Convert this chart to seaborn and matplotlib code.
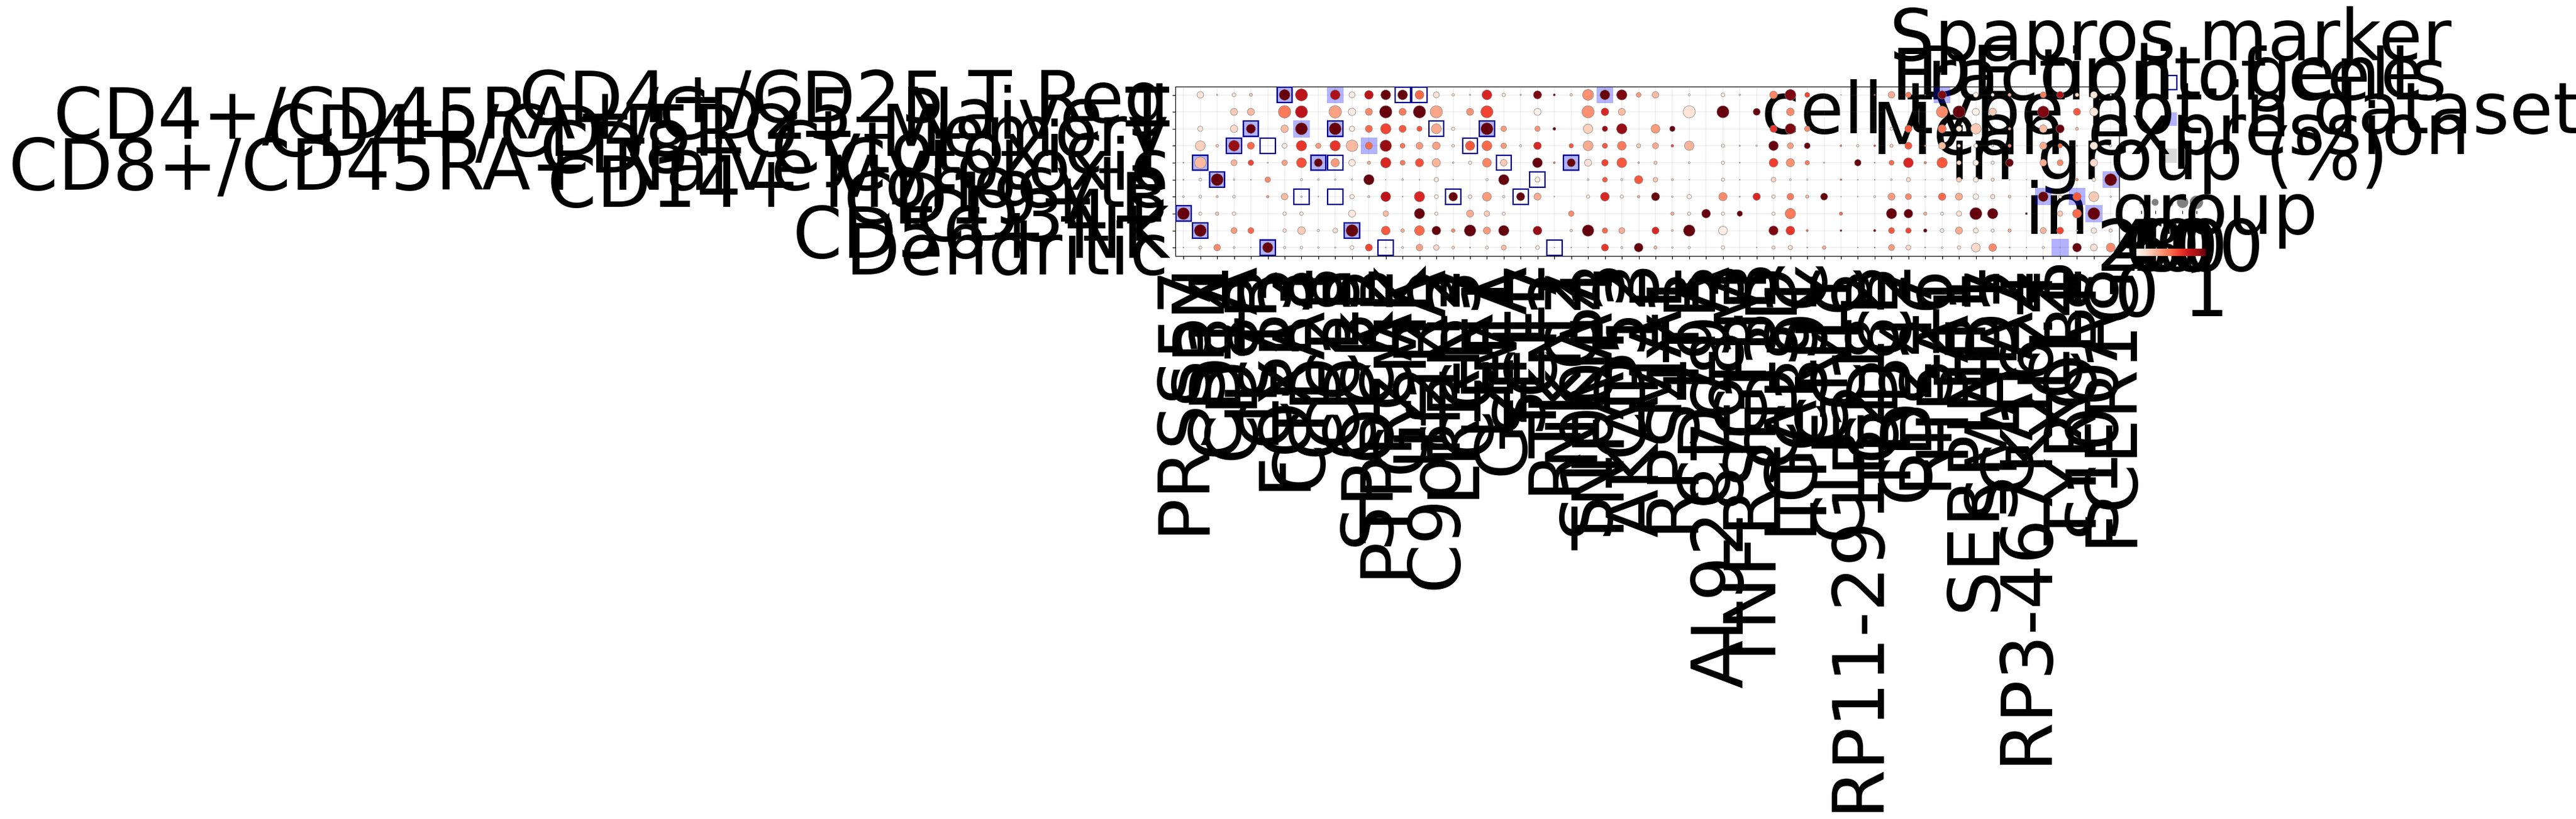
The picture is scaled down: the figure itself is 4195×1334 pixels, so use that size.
import numpy as np
import pandas as pd
import matplotlib
matplotlib.use('Agg')
import matplotlib.pyplot as plt
import seaborn as sns
from matplotlib.patches import Rectangle

W, H = 4195, 1334
FS = 83.2

cell_types = ['CD4+/CD25 T Reg', 'CD4+/CD45RA+/CD25- Naive T', 'CD4+/CD45RO+ Memory', 'CD8+ Cytotoxic T',
              'CD8+/CD45RA+ Naive Cytotoxic', 'CD14+ Monocyte', 'CD19+ B', 'CD34+', 'CD56+ NK', 'Dendritic']

# labels overprint in the reference: only the long ones are really legible,
# the others are best guesses of about the right length
genes = ['PRSS57', 'SPN', 'CD14', 'CD8A', 'IL7R', 'CST3', 'FOXP3', 'CTLA4', 'CD28', 'CCL5',
         'CD3E', 'SPOCK2', 'PTPRCAP', 'GZMK', 'IL2RA', 'C9orf142', 'LRRN3', 'CCR7', 'LEF1', 'GZMA',
         'SELL', 'TCF7', 'RTKN2', 'NKG7', 'S100A4', 'TNFAIP3', 'CD52', 'AKAP13', 'MAL', 'RPS4Y1',
         'LTB', 'CD79A', 'AL928768.3', 'IGHM', 'TNFRSF13B', 'CD3D', 'LGALS1', 'TTC39C', 'GNLY', 'CLEC4C',
         'RP11-291B21.2', 'CD8B', 'TRBC2', 'CD247', 'RPS26', 'HBA1', 'FTL', 'SERPINB1', 'SMAD7', 'GATA2',
         'RP3-467K16.4', 'LYZ', 'XCL1', 'TYROBP', 'S100A8', 'FCER1G']

# fraction of cells in group (%)
frac_treg = [0,41,5,20,14.5,0,80,92,0,70, 36,60,70,70,60,36,11,5,70,18, 5,55,9.4,11,80,70,75,26,41,0,
             9.4,0,20,6.4,0,50,80,28,0,1.5, 0,5,41,32,2.5,55,0,28,16,16, 0,36,43,20,43,6.4]
frac_naive = [0,0,0,45,45,0,95,92,0,95, 48,45,95,45,95,92,0,45,92,0, 0,45,0,0,92,50,45,0,0,0,
              92,0,92,0,45,0,50,0,0,0, 0,0,0,0,0,86,92,45,48,0, 0,86,0,45,55,0]
frac_memory = [0,30,0,48,65,0,48,92,0,92, 30,45,75,45,30,70,16,0,92,32, 0,30,14.5,0,65,32,75,0,60,32,
               0,0,0,0,0,45,75,32,0,0, 0,0,14.5,45,0,55,32,75,0,12.7, 0,50,55,14,0,0]
frac_cyto = [0,70,12.7,80,45,0,28,75,30,75, 86,45,86,28,43,50,12.7,65,70,32, 9.4,50,0,24,70,30,60,22,36,12.7,
             65,0,16,5,6.4,68,36,36,0,8, 11,8,16,45,6.4,45,16,20,9.4,16, 0,45,24,5,50,9.4]
frac_naive_cyto = [3.8,86,0,36,32,3.8,32,70,55,55, 41,16,75,28,55,55,6.4,16,60,41, 0,70,8,55,45,41,70,6.4,16,0,
                   8,0,16,3.8,0,60,55,24,5,0, 41,3.8,28,70,11,75,24,32,16,50, 0,43,36,3.8,48,0]
frac_mono = [3.8,12.7,92,5,2.5,32,0,9.4,6.4,5, 6.4,75,1.5,6.4,2.5,24,1.5,0,9.4,75, 0,28,0,0,6.4,28,9.4,55,26,8,
             1.5,0,16,2.5,0,26,8,5,0,6.4, 2.5,2.5,6.4,22,1.5,9.4,28,28,16,2.5, 1,0,0,11,18,92]
frac_b = [8,12.7,9.4,12.7,0,11,41,6.4,2.5,0, 24,9.4,70,2.5,75,20,60,20,60,11, 55,45,2.5,0,16,60,16,11,55,6.4,
          24,0,55,3.8,48,18,41,16,45,1.5, 2.5,9.4,45,36,6.4,48,45,32,24,12.7, 1.5,70,16,55,70,6.4]
frac_cd34 = [92,14.5,16,18,0,0,18,18,0,0, 45,0,32,0,75,16,0,45,32,14.5, 0,0,0,32,0,0,0,0,0,16,
             16,60,16,32,0,16,75,0,0,16, 0,0,75,60,16,14.5,30,92,75,0, 9.4,0,30,60,92,0]
frac_nk = [0,92,0,36,36,0,18,50,11,26, 92,0,60,18,70,60,18,86,45,75, 0,60,0,11,86,32,36,0,45,8,
           86,0,60,0,0,65,60,9.4,0,8, 0,11,36,32,18,20,45,28,16,16, 0,36,43,6.4,32,16]
frac_dend = [2.5,14.5,41,8,2.5,75,11,12.7,6.4,5, 20,45,3.8,8,41,32,12.7,3.8,14.5,28, 2.5,20,1.5,2.5,2.5,45,9.4,60,16,6.4,
             11,0,18,0,2.5,16,24,3.8,18,0, 2.5,3.8,36,28,3.8,6.4,18,60,50,3.8, 2.5,11,3.8,60,43,60]

# mean expression in group
expr_treg = [0,.1,.2,.1,.2,0,1,.8,0,.85, .05,.8,1,1,.5,.12,.15,.15,.7,.08, .15,.95,1,.15,.38,1,.95,.35,.25,0,
             .03,0,.02,.1,0,.42,.95,.6,0,.1, 0,.7,.3,.45,.5,.95,0,.02,.05,.3, 0,.45,.85,.15,.1,.05]
expr_naive = [0,0,0,.2,.25,0,.45,.8,0,.33, .05,.4,1,.45,1,.32,0,.37,.6,0, 0,.03,0,0,.38,.7,.25,0,0,0,
              .1,0,1,0,1,0,.4,0,0,0, 0,0,0,0,0,.4,1,.02,.2,0, 0,.95,0,.55,.1,0]
expr_memory = [0,.1,0,.15,1,0,.25,1,0,1, .05,.5,.6,.55,.55,.3,.1,0,1,.35, 0,.37,1,0,.18,.9,.9,0,.35,1,
               0,0,0,0,0,.65,.95,.4,0,0, 0,0,.08,.55,0,.47,.1,.2,0,.3, 0,.25,1,.25,0,0]
expr_cyto = [0,.18,.2,.9,.5,0,.07,.65,.35,.65, .25,.5,.9,.47,.35,.33,.1,.55,.5,.35, .08,.7,0,.55,.3,.55,.45,.2,.3,.6,
             .27,0,.03,.2,.08,1,.33,1,0,.45, .1,.65,.2,.55,.45,.25,.1,.02,.05,.4, 0,.3,.5,.05,.1,.05]
expr_naive_cyto = [.2,.25,0,.27,.6,.1,.33,.57,1,.35, .08,.3,.7,.45,.57,.27,.1,.05,.42,.2, 0,1,.5,1,.12,.6,.55,.25,.2,0,
                   .1,0,.05,.2,0,.62,.38,.45,.1,0, 1,.4,.5,.7,.45,.55,.15,.05,.05,1, 0,.3,.4,.03,.15,0]
expr_mono = [.2,.03,1,.1,.3,.4,0,.05,.05,.05, .05,1,.2,.05,.2,.08,.3,0,.03,1, 0,.07,0,0,.05,.55,.03,.55,.22,.2,
             .3,0,.03,.2,0,.17,.05,.05,0,.6, .3,.3,.12,.15,.3,.03,.2,.08,.15,.1, .2,0,0,.4,.08,1]
expr_b = [.03,.03,.2,.05,0,.35,.25,.05,.3,0, .05,.15,.8,.3,.7,.03,1,.12,.35,.03, 1,.3,.2,0,.03,.7,.03,.3,1,.05,
          .05,0,.4,.3,.7,.1,.45,.25,1,.3, .3,.1,.35,.4,.2,.5,.3,.03,.12,.2, .3,1,.07,.55,.2,.05]
expr_cd34 = [1,.05,.2,.1,0,0,.07,.05,0,0, .08,0,.25,0,1,.03,0,.3,.2,.05, 0,0,0,.4,0,0,0,0,0,.3,
             .05,1,.05,1,0,.03,.45,0,0,.5, 0,0,1,1,.3,.07,.12,1,1,0, 1,0,.2,.5,1,0]
expr_nk = [0,1,0,.35,.5,0,.15,.2,.08,.12, 1,0,.55,.3,.5,1,.4,1,.35,1, 0,.9,0,.1,1,.5,.3,0,.7,.2,
           1,0,.05,0,0,.95,.65,.5,0,.95, 0,.95,.55,.6,1,.05,.3,.08,.07,.3, 0,.27,.6,.03,.08,.15]
expr_dend = [.2,.05,.4,.1,.3,1,.05,.05,.1,.1, .03,.6,.1,.05,.33,.15,.15,.3,.05,.25, .3,.05,.3,.3,.3,.65,.03,1,.25,.1,
             .05,0,.05,0,.2,.15,.12,.2,.3,0, .3,.7,.35,.15,.2,.03,.12,.15,.4,.05, .05,.1,.03,1,.12,.4]

# (cell type index, gene index)
spapros_cells = [(0,6),(0,13),(0,14),(2,4),(2,9),(2,15),(2,18),(3,3),(3,5),(3,17),(4,1),(4,8),(4,9),(4,19),(4,23),
                 (5,2),(5,21),(6,7),(6,9),(6,16),(6,20),(7,0),(8,1),(8,10),(9,5),(9,12),(9,22)]
de_cells = [(0,6),(0,9),(0,25),(0,45),(2,4),(2,7),(2,9),(2,18),(3,3),(3,11),(4,1),(4,8),(4,23),(5,2),(5,55),
            (6,51),(6,53),(7,0),(7,54),(8,1),(8,10),(9,5),(9,52)]

legend_pct = [20, 40, 60, 80, 100]
key_labels = ['Spapros marker', 'DE or lit. gene', 'cell type not in dataset']

SIZE_MAX = 228


def px_axes(fig, left, top, right, bottom):
    return fig.add_axes([left / W, 1 - bottom / H, (right - left) / W, (bottom - top) / H])


def load_table():
    frac = np.array([frac_treg, frac_naive, frac_memory, frac_cyto, frac_naive_cyto,
                     frac_mono, frac_b, frac_cd34, frac_nk, frac_dend])
    expr = np.array([expr_treg, expr_naive, expr_memory, expr_cyto, expr_naive_cyto,
                     expr_mono, expr_b, expr_cd34, expr_nk, expr_dend])
    rows, cols = np.indices(frac.shape)
    df = pd.DataFrame({'row': rows.ravel(), 'col': cols.ravel(), 'frac': frac.ravel(), 'expr': expr.ravel()})
    df['dot'] = (df['frac'] / 100) ** 1.5
    return df[df['frac'] > 0]


def draw_key(fig):
    ax = px_axes(fig, 3525, 104.75, 3545, 283.25)
    ax.set_xlim(0, 1)
    ax.set_ylim(3, 0)
    ax.axis('off')
    h = 0.37
    ax.add_patch(Rectangle((0, 0.5 - h / 2), 1, h, fill=False, ec='#00008b', lw=1.6, clip_on=False))
    ax.add_patch(Rectangle((0, 1.5 - h / 2), 1, h, fc='blue', alpha=0.3, ec='none', clip_on=False))
    ax.add_patch(Rectangle((0, 2.5 - h / 2), 1, h, fc='black', alpha=0.15, ec='none', clip_on=False))
    for i, label in enumerate(key_labels):
        ax.text(0.5, i + 0.5 - 0.61, label, ha='center', va='baseline', fontsize=FS, clip_on=False)


def draw_size_legend(fig):
    ax = px_axes(fig, 3476, 316, 3588, 343)
    sizes = pd.DataFrame({'x': range(len(legend_pct)), 'y': 0, 'dot': (np.array(legend_pct) / 100) ** 1.5})
    sns.scatterplot(data=sizes, x='x', y='y', size='dot', size_norm=(0, 1), sizes=(0, SIZE_MAX),
                    color='gray', edgecolor='gray', linewidth=0.5, legend=False, ax=ax, clip_on=False)
    ax.set_xlim(-0.5, 4.5)
    ax.set_ylim(-0.5, 0.5)
    ax.set_yticks([])
    ax.set_xticks(range(len(legend_pct)))
    ax.set_xticklabels(legend_pct, fontsize=FS)
    ax.set_xlabel('')
    ax.set_ylabel('')
    for s in ax.spines.values():
        s.set_visible(False)
    ax.set_title('Fraction of cells\nin group (%)', fontsize=FS, pad=0)


def draw_colorbar(fig):
    cax = px_axes(fig, 3479, 405, 3592, 417)
    sm = plt.cm.ScalarMappable(norm=plt.Normalize(0, 1), cmap='Reds')
    cb = fig.colorbar(sm, cax=cax, orientation='horizontal', ticks=[0, 1])
    cb.outline.set_linewidth(0)
    cb.ax.tick_params(labelsize=FS)
    cax.set_title('Mean expression\nin group', fontsize=FS, pad=15)


def draw_dots(fig, df):
    ax = px_axes(fig, 1913.5, 140.7, 3451, 417)
    ax.set_zorder(5)
    ax.patch.set_visible(False)
    ax.grid(True, color='gray', alpha=0.1, lw=1.4)
    ax.set_axisbelow(True)
    for r, c in de_cells:
        ax.add_patch(Rectangle((c - 0.5, r - 0.5), 1, 1, fc='blue', alpha=0.3, ec='none', zorder=1))
    sns.scatterplot(data=df, x='col', y='row', hue='expr', hue_norm=(0, 1), palette='Reds',
                    size='dot', size_norm=(0, 1), sizes=(0, SIZE_MAX), edgecolor='gray', linewidth=0.5,
                    legend=False, ax=ax, zorder=3)
    for r, c in spapros_cells:
        ax.add_patch(Rectangle((c - 0.45, r - 0.45), 0.9, 0.9, fill=False, ec='#00008b', lw=1.6, zorder=4))
    ax.set_xlim(-0.5, len(genes) - 0.5)
    ax.set_ylim(len(cell_types) - 0.5, -0.5)
    ax.set_xticks(range(len(genes)))
    ax.set_xticklabels(genes, rotation=90, fontsize=FS)
    ax.set_yticks(range(len(cell_types)))
    ax.set_yticklabels(cell_types, fontsize=FS)
    ax.set_xlabel('')
    ax.set_ylabel('')


if __name__ == "__main__":
    plt.rcParams['font.family'] = ['DejaVu Sans']
    fig = plt.figure(figsize=(W / 100, H / 100), dpi=100)
    draw_key(fig)
    draw_size_legend(fig)
    draw_colorbar(fig)
    draw_dots(fig, load_table())
    fig.savefig('out.png', dpi=100)
    plt.close(fig)
